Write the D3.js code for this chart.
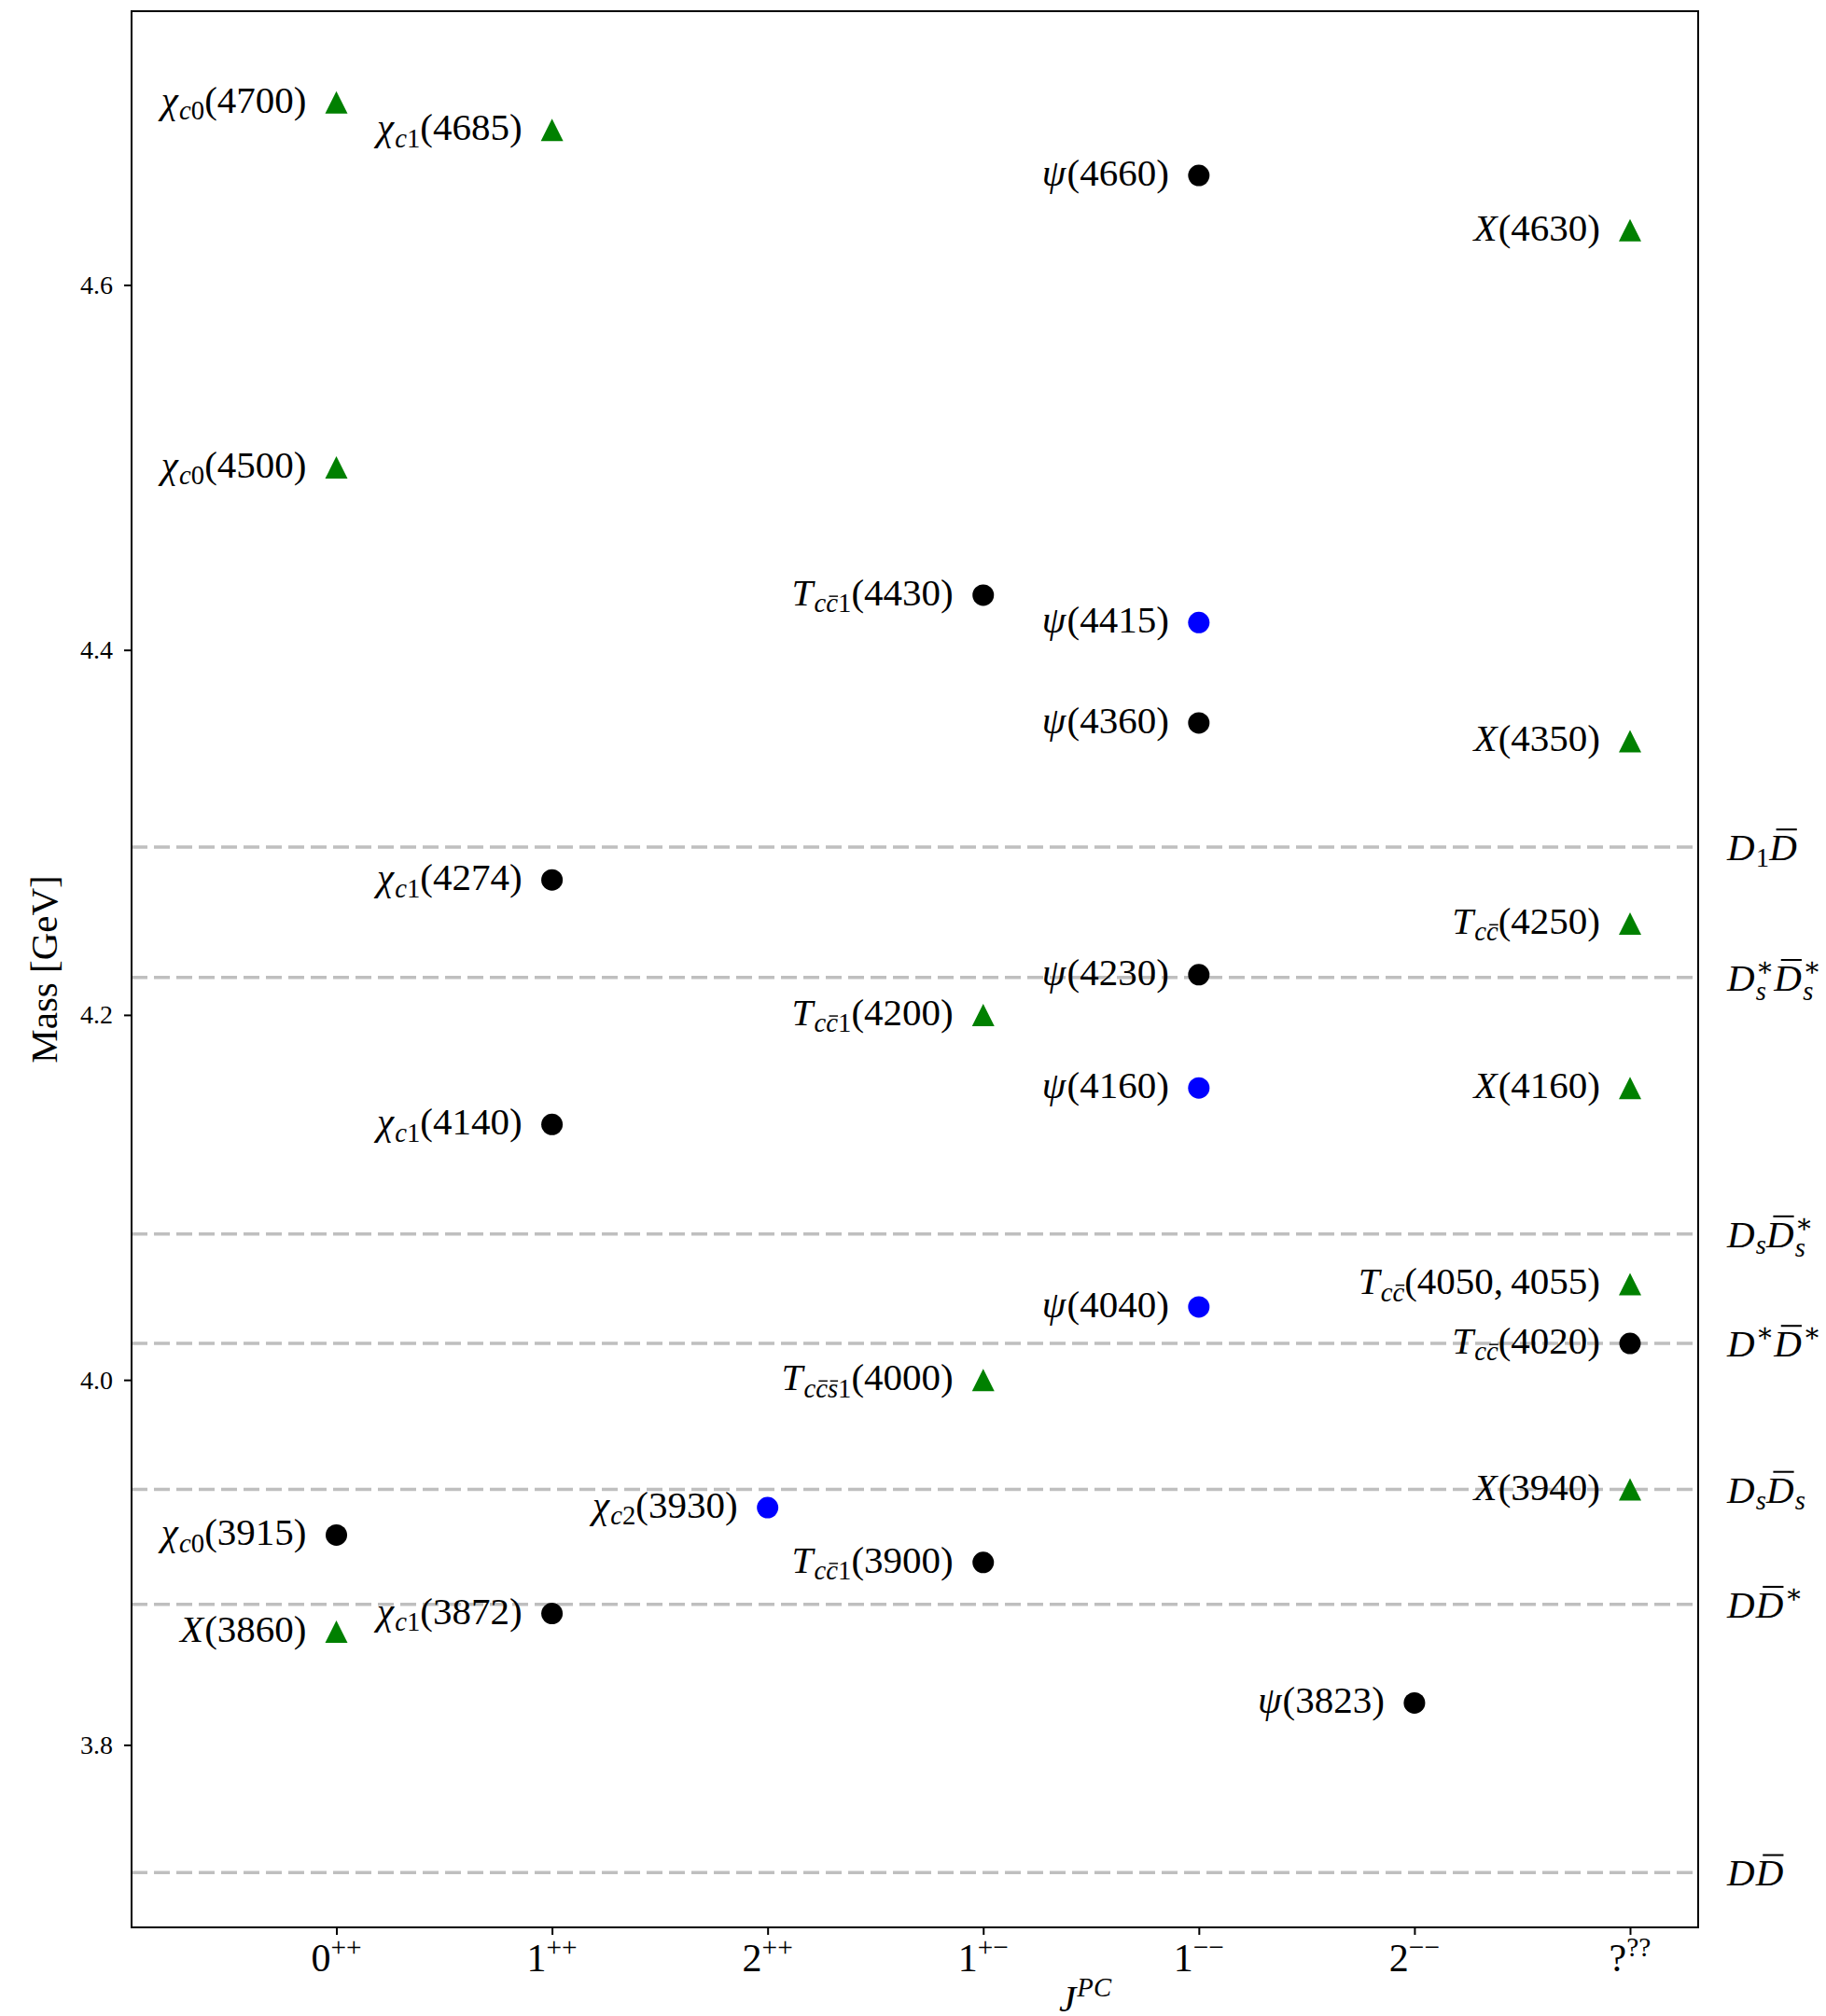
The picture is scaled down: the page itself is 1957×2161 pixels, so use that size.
<!DOCTYPE html>
<html>
<head>
<meta charset="utf-8">
<script src="https://cdn.jsdelivr.net/npm/d3@7"></script>
<style>
  body { margin: 0; background: #fff; }
  svg { display: block; font-family: "Liberation Serif", "DejaVu Serif", serif; }
</style>
</head>
<body>
<svg id="chart"></svg>
<script>
// J^PC categories on the x axis
var jpcBase = ["0", "1", "2", "1", "1", "2", "?"];
var jpcSup = ["++", "++", "++", "+\u2212", "\u2212\u2212", "\u2212\u2212", "??"];

// y ticks (GeV)
var yTicks = [3.8, 4.0, 4.2, 4.4, 4.6];

// states: label, J^PC index, mass (GeV), marker kind
var stateLabel = [
    "\u03c7_{c0}(4700)", "\u03c7_{c0}(4500)", "\u03c7_{c0}(3915)", "X(3860)",
    "\u03c7_{c1}(4685)", "\u03c7_{c1}(4274)", "\u03c7_{c1}(4140)", "\u03c7_{c1}(3872)",
    "\u03c7_{c2}(3930)",
    "T_{cc\u03041}(4430)", "T_{cc\u03041}(4200)", "T_{cc\u0304s\u03041}(4000)", "T_{cc\u03041}(3900)",
    "\u03c8(4660)", "\u03c8(4415)", "\u03c8(4360)", "\u03c8(4230)", "\u03c8(4160)", "\u03c8(4040)",
    "\u03c8(3823)",
    "X(4630)", "X(4350)", "T_{cc\u0304}(4250)", "X(4160)", "T_{cc\u0304}(4050, 4055)", "T_{cc\u0304}(4020)", "X(3940)"
];
var stateJPC = [0, 0, 0, 0, 1, 1, 1, 1, 2, 3, 3, 3, 3, 4, 4, 4, 4, 4, 4, 5, 6, 6, 6, 6, 6, 6, 6];
var stateMass = [4.700, 4.500, 3.915, 3.862, 4.685, 4.274, 4.140, 3.872, 3.930,
    4.430, 4.200, 4.000, 3.900, 4.660, 4.415, 4.360, 4.222, 4.160, 4.040,
    3.823, 4.630, 4.350, 4.250, 4.160, 4.0525, 4.020, 3.940];
var stateKind = ["tri", "tri", "dot", "tri", "tri", "dot", "dot", "dot", "blue",
    "dot", "tri", "tri", "dot", "dot", "blue", "dot", "dot", "blue", "blue",
    "dot", "tri", "tri", "tri", "tri", "tri", "dot", "tri"];

// two-meson thresholds
var thresholdLabel = ["DD\u0304", "DD\u0304^\u2217", "D_sD\u0304_s", "D^\u2217D\u0304^\u2217",
    "D_sD\u0304_s^\u2217", "D_s^\u2217D\u0304_s^\u2217", "D_1D\u0304"];
var thresholdMass = [3.730, 3.877, 3.940, 4.020, 4.080, 4.2205, 4.292];

var W = 1957, H = 2161;
var plotLeft = 141, plotRight = 1820, plotTop = 12, plotBottom = 2066;
var kindColor = { tri: "green", dot: "black", blue: "blue" };

var svg = d3.select("#chart").attr("width", W).attr("height", H);

var x = d3.scaleLinear().domain([-0.95, 6.316]).range([plotLeft, plotRight]);
var y = d3.scaleLinear().domain([3.7, 4.75]).range([plotBottom, plotTop]);

// tiny TeX-like layout: _ and ^ scripts, letters italic, combining macron = bar
function parseTex(str) {
    var chars = Array.from(str), atoms = [], i = 0, grp = 0;
    function push(c, role) {
        atoms.push({ t: c, role: role, grp: grp, italic: /[A-Za-z\u0370-\u03ff]/.test(c), bar: false });
    }
    while (i < chars.length) {
        var ch = chars[i];
        if (ch === "_" || ch === "^") {
            var role = ch === "_" ? "sub" : "sup", body = [];
            i++;
            if (chars[i] === "{") { i++; while (chars[i] !== "}") body.push(chars[i++]); i++; }
            else { body.push(chars[i++]); while (chars[i] === "\u0304") body.push(chars[i++]); }
            grp++;
            body.forEach(function (c) {
                if (c === "\u0304") atoms[atoms.length - 1].bar = true; else push(c, role);
            });
            continue;
        }
        if (ch === "\u0304") { atoms[atoms.length - 1].bar = true; i++; continue; }
        grp++;
        push(ch, "base");
        i++;
    }
    return d3.groups(atoms, function (a) { return a.grp; }).map(function (d) { return d[1]; });
}

function drawTex(parent, str, px0, py0, fs, anchor) {
    var groups = parseTex(str);
    var g = parent.append("g");
    var cx = 0, prev = null;
    groups.forEach(function (grp, k) {
        var role = grp[0].role;
        var size = role === "base" ? fs : fs * 0.7;
        var stacked = prev && prev.role !== "base" && role !== "base" && prev.role !== role;
        var start = stacked ? prev.start : cx;
        var next = groups[k + 1];
        var both = stacked || (role !== "base" && next && next[0].role !== "base" && next[0].role !== role);
        var dy = role === "sub" ? (both ? 0.26 : 0.18) * fs : role === "sup" ? -0.38 * fs : 0;
        var px = start;
        grp.forEach(function (a) {
            if (a.t === " ") { px += 0.2 * size; return; }
            var t = g.append("text")
                .attr("x", px).attr("y", dy)
                .attr("font-size", size)
                .attr("font-style", a.italic ? "italic" : "normal")
                .text(a.t);
            var w = t.node().getComputedTextLength();
            if (a.bar) {
                var h = /[A-Z]/.test(a.t) ? 0.8 : 0.6;
                g.append("line")
                    .attr("x1", px + 0.25 * w).attr("x2", px + 1.0 * w)
                    .attr("y1", dy - h * size).attr("y2", dy - h * size)
                    .attr("stroke", "#000").attr("stroke-width", 0.05 * size);
            }
            px += w;
            if (a.italic && role === "base") px += 0.03 * size;
        });
        cx = stacked ? Math.max(prev.end, px) : px;
        prev = { role: role, start: start, end: px };
    });
    var shift = anchor === "end" ? -cx : anchor === "middle" ? -cx / 2 : 0;
    g.attr("transform", "translate(" + (px0 + shift) + "," + py0 + ")");
    return g;
}

// threshold lines
svg.append("g").selectAll("line")
    .data(thresholdMass)
    .enter().append("line")
    .attr("x1", plotLeft).attr("x2", plotRight)
    .attr("y1", function (d) { return y(d); })
    .attr("y2", function (d) { return y(d); })
    .attr("stroke", "#bfbfbf")
    .attr("stroke-width", 3.5)
    .attr("stroke-dasharray", "17,7");

var thrLabels = svg.append("g");
thresholdMass.forEach(function (m, i) {
    drawTex(thrLabels, thresholdLabel[i], plotRight + 31, y(m) + 14, 41, "start");
});

// markers
var triUp = {
    draw: function (ctx, size) {
        var r = Math.sqrt(size) / 2;
        ctx.moveTo(0, -r); ctx.lineTo(r, r); ctx.lineTo(-r, r); ctx.closePath();
    }
};
var idx = d3.range(stateMass.length);
svg.append("g").selectAll("path")
    .data(idx)
    .enter().append("path")
    .attr("transform", function (i) { return "translate(" + x(stateJPC[i]) + "," + y(stateMass[i]) + ")"; })
    .attr("d", function (i) {
        return stateKind[i] === "tri"
            ? d3.symbol().type(triUp).size(24 * 24)()
            : d3.symbol().type(d3.symbolCircle).size(Math.PI * 11.5 * 11.5)();
    })
    .attr("fill", function (i) { return kindColor[stateKind[i]]; });

var stLabels = svg.append("g");
idx.forEach(function (i) {
    drawTex(stLabels, stateLabel[i], x(stateJPC[i]) - 32, y(stateMass[i]) + 11, 41, "end");
});

// axes
var yAxis = svg.append("g")
    .attr("transform", "translate(" + plotLeft + ",0)")
    .call(d3.axisLeft(y).tickValues(yTicks).tickFormat(d3.format(".1f")).tickSize(8).tickPadding(12));
yAxis.select(".domain").remove();
yAxis.selectAll("line").attr("stroke-width", 2);
yAxis.selectAll("text").attr("font-size", 28).attr("font-family", "Liberation Serif, DejaVu Serif, serif");

var xAxis = svg.append("g")
    .attr("transform", "translate(0," + plotBottom + ")")
    .call(d3.axisBottom(x).tickValues(d3.range(jpcBase.length)).tickFormat("").tickSize(8));
xAxis.select(".domain").remove();
xAxis.selectAll("line").attr("stroke-width", 2);

var xLabels = svg.append("g");
jpcBase.forEach(function (b, i) {
    drawTex(xLabels, b + "^{" + jpcSup[i] + "}", x(i), plotBottom + 47, 42, "middle");
});

// frame
svg.append("rect")
    .attr("x", plotLeft).attr("y", plotTop)
    .attr("width", plotRight - plotLeft).attr("height", plotBottom - plotTop)
    .attr("fill", "none").attr("stroke", "#000").attr("stroke-width", 2);

// axis titles
drawTex(svg, "J^{PC}", 1163, 2156, 41, "middle");
svg.append("text")
    .attr("transform", "translate(61," + ((plotTop + plotBottom) / 2) + ") rotate(-90)")
    .attr("text-anchor", "middle")
    .attr("font-size", 41)
    .text("Mass [GeV]");
</script>
</body>
</html>
